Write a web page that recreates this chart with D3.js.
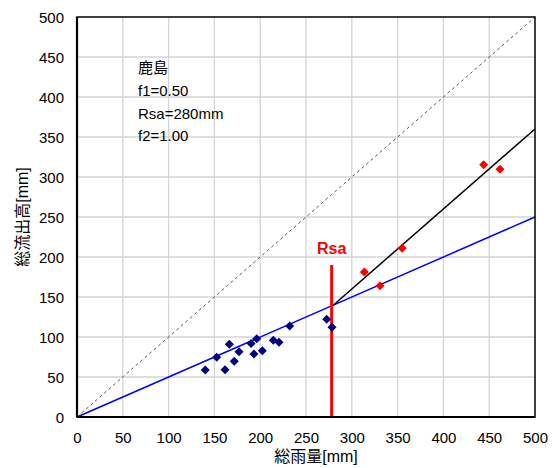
<!DOCTYPE html>
<html><head><meta charset="utf-8">
<script src="https://cdn.jsdelivr.net/npm/d3@7"></script>
<style>body{margin:0;background:#fff}svg{display:block}text{font-family:"Liberation Sans",Arial,"Noto Sans CJK JP",sans-serif}</style>
</head><body>
<script>
const blueX = [140,152.5,161.6,166.3,171.7,176.9,190,196.2,193.2,202.3,214.3,220.5,232.2,272.6,278.4];
const blueY = [58.8,74.6,59.1,90.9,69.6,81.6,92,97.9,78.8,82.9,95.9,93.4,113.8,122.1,112.1];
const redX = [313.7,330.8,355,444,461.8];
const redY = [181.3,164.1,210.9,315.4,309.6];
const ticks = [0,50,100,150,200,250,300,350,400,450,500];
const f1 = 0.5, Rsa = 280, f2 = 1.0, RsaLine = 278, RsaLineTop = 190;
const notes = ["鹿島","f1=0.50","Rsa=280mm","f2=1.00"];

const W=556,H=468;
const svg=d3.select("body").append("svg").attr("width",W).attr("height",H);
const x=d3.scaleLinear().domain([0,500]).range([77,535]);
const y=d3.scaleLinear().domain([0,500]).range([417,17]);

// grid
svg.append("g").selectAll("line").data(ticks.slice(1,-1)).join("line")
 .attr("x1",d=>x(d)).attr("x2",d=>x(d)).attr("y1",y(0)).attr("y2",y(500))
 .attr("stroke","#d4d4d4").attr("stroke-width",1.3);
svg.append("g").selectAll("line").data(ticks.slice(1,-1)).join("line")
 .attr("y1",d=>y(d)).attr("y2",d=>y(d)).attr("x1",x(0)).attr("x2",x(500))
 .attr("stroke","#d4d4d4").attr("stroke-width",1.3);

// axes labels
const xa=d3.axisBottom(x).tickValues(ticks).tickSize(0).tickPadding(0);
const gx=svg.append("g").attr("transform",`translate(0,${y(0)})`).call(xa);
gx.select(".domain").remove();
gx.selectAll("text").attr("dy","0.35em").attr("y",21).attr("font-size",15).attr("fill","#000");
const ya=d3.axisLeft(y).tickValues(ticks).tickSize(0).tickPadding(0);
const gy=svg.append("g").attr("transform",`translate(${x(0)},0)`).call(ya);
gy.select(".domain").remove();
gy.selectAll("text").attr("x",-13).attr("dy","0.35em").attr("font-size",15).attr("fill","#000");

// 1:1 line
svg.append("line").attr("x1",x(0)).attr("y1",y(0)).attr("x2",x(500)).attr("y2",y(500))
 .attr("stroke","#444").attr("stroke-width",0.9).attr("stroke-dasharray","3,3");
// blue line
svg.append("line").attr("x1",x(0)).attr("y1",y(0)).attr("x2",x(500)).attr("y2",y(500*f1))
 .attr("stroke","#0000ff").attr("stroke-width",1.5);
// black line
svg.append("line").attr("x1",x(Rsa)).attr("y1",y(Rsa*f1)).attr("x2",x(500)).attr("y2",y(Rsa*f1+(500-Rsa)*f2))
 .attr("stroke","#000").attr("stroke-width",1.5);
// red Rsa line
svg.append("line").attr("x1",x(RsaLine)).attr("x2",x(RsaLine)).attr("y1",y(0)).attr("y2",y(RsaLineTop))
 .attr("stroke","#ff0000").attr("stroke-width",3);
svg.append("text").attr("x",x(RsaLine)).attr("y",y(RsaLineTop)-11).attr("text-anchor","middle")
 .attr("font-size",16).attr("font-weight","bold").attr("fill","#ff0000").text("Rsa");

// diamonds
const diamond=d3.symbol().type(d3.symbolDiamond2).size(52);
svg.append("g").selectAll("path").data(blueX.map((v,i)=>[v,blueY[i]])).join("path")
 .attr("d",diamond).attr("transform",d=>`translate(${x(d[0])},${y(d[1])})`).attr("fill","#000080");
svg.append("g").selectAll("path").data(redX.map((v,i)=>[v,redY[i]])).join("path")
 .attr("d",diamond).attr("transform",d=>`translate(${x(d[0])},${y(d[1])})`).attr("fill","#ff0000");

// border
svg.append("rect").attr("x",x(0)).attr("y",y(500)).attr("width",x(500)-x(0)).attr("height",y(0)-y(500))
 .attr("fill","none").attr("stroke","#000").attr("stroke-width",1.5);
svg.append("line").attr("x1",x(0)).attr("x2",x(500)).attr("y1",y(0)).attr("y2",y(0)).attr("stroke","#000").attr("stroke-width",2.2);
svg.append("line").attr("x1",x(0)).attr("x2",x(0)).attr("y1",y(0)).attr("y2",y(500)).attr("stroke","#000").attr("stroke-width",2.2);

// notes
svg.append("g").selectAll("text").data(notes).join("text")
 .attr("x",138).attr("y",(d,i)=>[68,91,114,136][i]).attr("dy","0.35em")
 .attr("font-size",15).attr("fill","#000").text(d=>d);

// axis titles
svg.append("text").attr("x",316).attr("y",456).attr("dy","0.35em").attr("text-anchor","middle")
 .attr("font-size",16).attr("fill","#000").text("総雨量[mm]");
svg.append("text").attr("transform","translate(22,217) rotate(-90)").attr("dy","0.35em").attr("text-anchor","middle")
 .attr("font-size",16).attr("fill","#000").text("総流出高[mm]");
</script>
</body></html>
